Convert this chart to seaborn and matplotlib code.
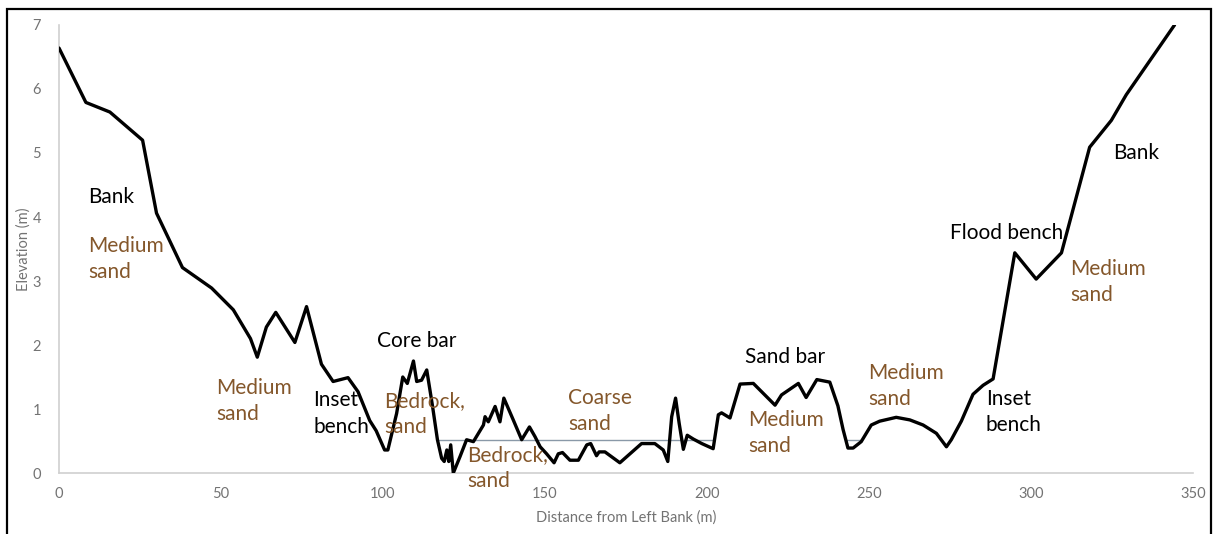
import pandas as pd
import matplotlib.pyplot as plt
import seaborn as sns
from matplotlib.patches import Rectangle

# perfil transversal (distancia x elevacao)
dist = [0, 8.3, 15.7, 25.8, 30.1, 38.1, 47.1, 53.8, 59.1, 61.2,
        64.0, 66.9, 72.8, 76.4, 81.0, 84.6, 89.2, 92.3, 95.9, 97.9,
        100.5, 101.5, 104.2, 106.1, 107.5, 109.4, 110.4, 111.9, 113.5, 115.3,
        116.8, 118.1, 118.9, 119.7, 120.3, 120.9, 121.7, 123.8, 125.8, 127.9,
        131.0, 131.5, 132.5, 134.6, 136.1, 137.3, 140.2, 142.8, 145.2, 146.9,
        148.5, 150.5, 152.8, 154.1, 155.4, 157.7, 160.3, 162.9, 164.1, 165.9,
        166.7, 168.5, 173.1, 179.8, 183.9, 186.5, 187.9, 189.1, 190.3, 191.4,
        192.7, 193.9, 195.8, 198.4, 201.9, 203.5, 204.5, 207.1, 210.2, 214.3,
        221.0, 223.0, 228.2, 230.6, 233.9, 237.9, 240.4, 242.0, 243.5, 245.1,
        247.6, 250.7, 253.3, 258.4, 262.6, 266.7, 270.8, 273.9, 275.4, 278.5,
        282.1, 285.2, 288.3, 295.0, 301.6, 309.4, 318.1, 324.8, 329.4, 344.3]
elev = [6.64, 5.79, 5.64, 5.20, 4.06, 3.21, 2.89, 2.55, 2.10, 1.81,
        2.28, 2.51, 2.04, 2.60, 1.70, 1.43, 1.49, 1.27, 0.82, 0.66,
        0.36, 0.36, 0.93, 1.50, 1.40, 1.75, 1.43, 1.45, 1.61, 1.04,
        0.52, 0.23, 0.18, 0.36, 0.18, 0.44, 0.0, 0.26, 0.52, 0.49,
        0.75, 0.88, 0.80, 1.04, 0.80, 1.17, 0.83, 0.52, 0.72, 0.57,
        0.41, 0.30, 0.16, 0.30, 0.32, 0.20, 0.20, 0.44, 0.46, 0.27,
        0.33, 0.33, 0.16, 0.46, 0.46, 0.36, 0.18, 0.88, 1.17, 0.78,
        0.37, 0.59, 0.53, 0.46, 0.38, 0.91, 0.94, 0.86, 1.39, 1.40,
        1.06, 1.22, 1.40, 1.18, 1.46, 1.42, 1.05, 0.68, 0.39, 0.39,
        0.49, 0.75, 0.81, 0.87, 0.83, 0.75, 0.62, 0.41, 0.52, 0.81,
        1.23, 1.37, 1.47, 3.44, 3.03, 3.44, 5.09, 5.51, 5.91, 7.0]

# nivel da agua
water_level = 0.52
water_spans = [(116.8, 202.0), (243.0, 247.6)]

# rotulos: texto, x, y, tipo (forma ou sedimento)
labels = [
    ('Bank', 9.0, 4.31, 'form'),
    ('Medium\nsand', 9.0, 3.34, 'sed'),
    ('Medium\nsand', 48.5, 1.13, 'sed'),
    ('Inset\nbench', 78.4, 0.93, 'form'),
    ('Core bar', 98.1, 2.06, 'form'),
    ('Bedrock,\nsand', 100.3, 0.92, 'sed'),
    ('Bedrock,\nsand', 125.9, 0.08, 'sed'),
    ('Coarse\nsand', 157.1, 0.97, 'sed'),
    ('Sand bar', 211.7, 1.81, 'form'),
    ('Medium\nsand', 212.7, 0.63, 'sed'),
    ('Medium\nsand', 249.7, 1.36, 'sed'),
    ('Inset\nbench', 286.1, 0.95, 'form'),
    ('Flood bench', 275.0, 3.75, 'form'),
    ('Medium\nsand', 312.0, 2.98, 'sed'),
    ('Bank', 325.3, 5.0, 'form'),
]
label_colors = {'form': 'black', 'sed': '#84572b'}

df = pd.DataFrame({'Distance': dist, 'Elevation': elev})

sns.set_style('white')
plt.rcParams['font.family'] = ['Lato', 'DejaVu Sans']

fig = plt.figure(figsize=(12.14, 5.34), dpi=100)
ax = fig.add_axes([0.0486, 0.1142, 0.9341, 0.8390])

for x0, x1 in water_spans:
    ax.plot([x0, x1], [water_level, water_level], color='#8a99a8', lw=1.0, zorder=1)

sns.lineplot(data=df, x='Distance', y='Elevation', color='black', lw=2.4,
             sort=False, ax=ax, zorder=3)

# cada linha do rotulo escrita separadamente (espaco entre linhas ~26 px)
gap = 0.41
for txt, x, y, kind in labels:
    lines = txt.split('\n')
    for i, line in enumerate(lines):
        yi = y + (len(lines) - 1) / 2 * gap - i * gap
        ax.text(x, yi, line, color=label_colors[kind], fontsize=15, ha='left',
                va='center', zorder=4)

ax.set_xlim(0, 350)
ax.set_ylim(0, 7)
ax.set_xticks(range(0, 351, 50))
ax.set_yticks(range(0, 8))
ax.tick_params(axis='both', length=0, labelsize=10.5, labelcolor='#737373')
ax.tick_params(axis='x', pad=10)
ax.tick_params(axis='y', pad=13)
ax.set_xlabel('Distance from Left Bank (m)', fontsize=10.5, color='#737373', labelpad=7)
ax.set_ylabel('Elevation (m)', fontsize=10.5, color='#737373', labelpad=1)

sns.despine(ax=ax)
for side in ['left', 'bottom']:
    ax.spines[side].set_color('#d0d0d0')
    ax.spines[side].set_linewidth(1.2)

# moldura externa
fig.patches.append(Rectangle((7 / 1214, -0.05), 1204 / 1214, 1.05 - 9 / 534,
                             transform=fig.transFigure, fill=False,
                             edgecolor='black', lw=1.6))

plt.savefig('out.png', dpi=100)
